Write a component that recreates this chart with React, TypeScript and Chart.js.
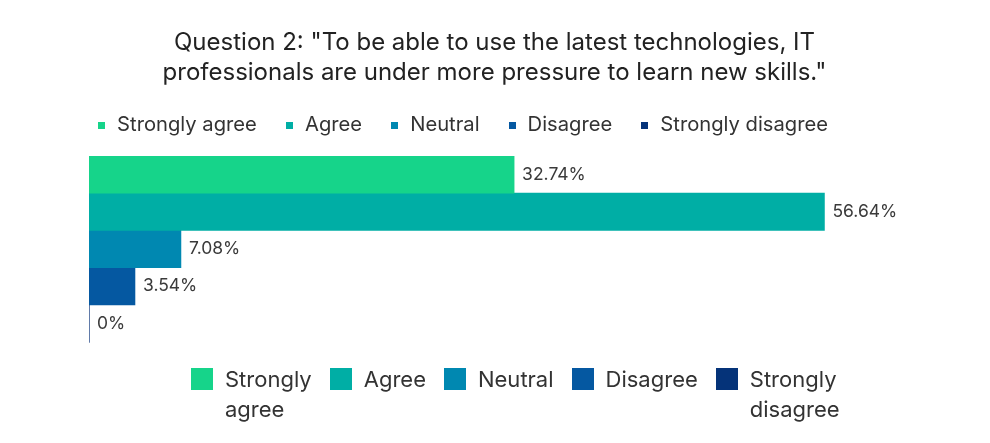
import { useEffect, useRef } from "react"
import { Chart, registerables } from "chart.js"

Chart.register(...registerables)

const categories = [""]
const seriesNames = ["Strongly agree", "Agree", "Neutral", "Disagree", "Strongly disagree"]
const seriesValues = [32.74, 56.64, 7.08, 3.54, 0]
const seriesColors = ["#16d48a", "#00aea5", "#0088b1", "#0558a1", "#053379"]
const titleLines = [
  'Question 2: "To be able to use the latest technologies, IT',
  'professionals are under more pressure to learn new skills."',
]
const xMax = 64

// small filled square used as legend marker
function square(color: string, size: number) {
  const c = document.createElement("canvas")
  c.width = size
  c.height = size
  const g = c.getContext("2d")
  if (g) {
    g.fillStyle = color
    g.fillRect(0, 0, size, size)
  }
  return c
}

const valueLabels = {
  id: "valueLabels",
  afterDatasetsDraw(chart: any) {
    const { ctx } = chart
    ctx.save()
    ctx.font = "17.5px Inter"
    ctx.fillStyle = "#3a3a3a"
    ctx.textBaseline = "middle"
    ctx.textAlign = "left"
    chart.data.datasets.forEach((ds: any, i: number) => {
      const meta = chart.getDatasetMeta(i)
      meta.data.forEach((bar: any, j: number) => {
        ctx.fillText(`${ds.data[j]}%`, bar.x + 8, bar.y)
      })
    })
    ctx.restore()
  },
}

export default function App() {
  const chartRef = useRef<HTMLCanvasElement>(null)
  const chartInstance = useRef<Chart | null>(null)

  useEffect(() => {
    const canvas = chartRef.current
    if (!canvas) return
    const ctx = canvas.getContext("2d")
    if (!ctx) return

    if (chartInstance.current) {
      chartInstance.current.destroy()
    }

    Chart.defaults.font.family = "Inter"

    chartInstance.current = new Chart(ctx, {
      type: "bar",
      data: {
        labels: categories,
        datasets: seriesNames.map((name, i) => ({
          label: name,
          data: [seriesValues[i]],
          backgroundColor: seriesColors[i],
          borderWidth: 0,
          categoryPercentage: 1,
          barPercentage: 1,
        })),
      },
      options: {
        indexAxis: "y",
        responsive: true,
        maintainAspectRatio: false,
        animation: false,
        layout: { padding: { left: 69, right: 70, top: 0, bottom: 101 } },
        plugins: {
          tooltip: { enabled: false },
          title: {
            display: true,
            text: titleLines,
            color: "#222",
            font: { size: 24, weight: "normal", lineHeight: 1.25 },
            padding: { top: 28, bottom: 0 },
          },
          legend: {
            position: "top",
            align: "start",
            labels: {
              usePointStyle: true,
              pointStyleWidth: 11,
              boxHeight: 7,
              padding: 27,
              color: "#333",
              font: { size: 20.2 },
              generateLabels: (chart: any) =>
                chart.data.datasets.map((ds: any, i: number) => ({
                  text: ds.label,
                  pointStyle: square(seriesColors[i], 7),
                  fillStyle: seriesColors[i],
                  strokeStyle: seriesColors[i],
                  fontColor: "#333",
                  lineWidth: 0,
                  hidden: false,
                  datasetIndex: i,
                })),
            },
          },
        },
        scales: {
          x: {
            position: "top",
            min: 0,
            max: xMax,
            ticks: { display: false },
            grid: { display: false, drawTicks: false },
            border: { display: false },
            afterFit: (s: any) => {
              s.height = 10.8
            },
          },
          y: {
            ticks: { display: false },
            grid: { display: false, drawTicks: false },
            border: { display: true, color: "#8fa0c0", width: 1 },
            afterFit: (s: any) => {
              s.width = 20
            },
          },
        },
      },
      plugins: [valueLabels],
    } as any)

    return () => {
      if (chartInstance.current) {
        chartInstance.current.destroy()
        chartInstance.current = null
      }
    }
  }, [])

  return (
    <div style={{ position: "fixed", left: 0, top: 0, width: 990, height: 443, background: "#fff" }}>
      <canvas ref={chartRef}></canvas>
      <div
        style={{
          position: "absolute",
          left: 191,
          top: 364,
          display: "flex",
          columnGap: 18,
          fontFamily: "Inter",
          fontSize: 22,
          lineHeight: "30px",
          color: "#333",
        }}
      >
        {seriesNames.map((name, i) => (
          <div key={name} style={{ display: "flex", alignItems: "flex-start" }}>
            <span
              style={{
                width: 22,
                height: 22,
                marginTop: 4,
                marginRight: 12,
                background: seriesColors[i],
                flex: "none",
              }}
            />
            <span style={{ width: "min-content" }}>{name}</span>
          </div>
        ))}
      </div>
    </div>
  )
}
